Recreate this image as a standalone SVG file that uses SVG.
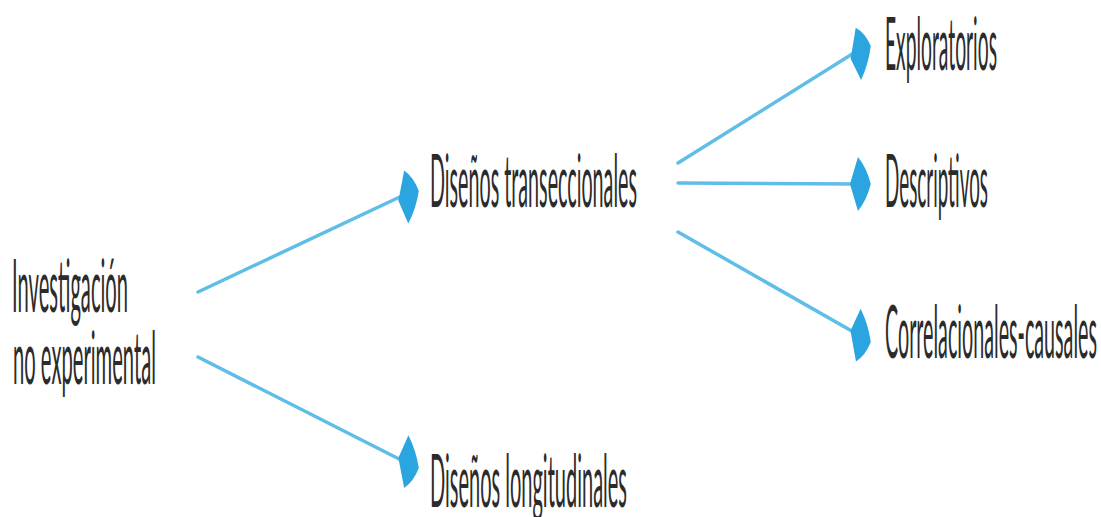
<svg xmlns="http://www.w3.org/2000/svg" xmlns:xlink="http://www.w3.org/1999/xlink" width="1101" height="517" viewBox="0 0 1101 517">
  <style>
    .label { font-family: Lato, "Open Sans", "Liberation Sans", sans-serif; font-size: 74px; font-weight: 400; fill: #2b2b2b; }
    .link { stroke: #5fbde8; stroke-width: 3.5; fill: none; stroke-linecap: round; }
    .head { fill: #2aa5df; }
  </style>
  <defs>
    <!-- arrowhead drawn in unsquashed space, tip at origin pointing +x -->
    <path id="arrowhead" d="M0,0 Q-10,-16 -32,-27 L-52,0 L-32,27 Q-10,16 0,0 Z"/>
  </defs>

  <rect width="1101" height="517" fill="#ffffff"/>

  <g id="connectors">
    <line class="link" x1="198" y1="292" x2="404" y2="195"/>
    <line class="link" x1="198" y1="357" x2="405" y2="462"/>
    <line class="link" x1="678" y1="163" x2="857" y2="51"/>
    <line class="link" x1="678" y1="183" x2="857" y2="184"/>
    <line class="link" x1="678" y1="232" x2="857" y2="334"/>
    <!-- heads: scale(0.4,1) then placed at tip/0.4 and rotated in unsquashed space -->
    <use class="head" xlink:href="#arrowhead" transform="scale(0.4,1) translate(1047,191) rotate(-10.9)"/>
    <use class="head" xlink:href="#arrowhead" transform="scale(0.4,1) translate(1047,468) rotate(11.5)"/>
    <use class="head" xlink:href="#arrowhead" transform="scale(0.4,1) translate(2177,46) rotate(-14.3)"/>
    <use class="head" xlink:href="#arrowhead" transform="scale(0.4,1) translate(2177,184) rotate(0)"/>
    <use class="head" xlink:href="#arrowhead" transform="scale(0.4,1) translate(2177,342) rotate(12.5)"/>
  </g>

  <!-- labels are set in a narrow face: x scaled by 0.25, lengths given in unscaled units -->
  <g id="node-investigacion">
    <text class="label" transform="scale(0.25,1)" x="48" y="312" textLength="464" lengthAdjust="spacingAndGlyphs">Investigación</text>
    <text class="label" transform="scale(0.25,1)" x="52" y="384" textLength="572" lengthAdjust="spacingAndGlyphs">no experimental</text>
  </g>
  <g id="node-transeccionales">
    <text class="label" transform="scale(0.25,1)" x="1720" y="207" textLength="828" lengthAdjust="spacingAndGlyphs">Diseños transeccionales</text>
  </g>
  <g id="node-longitudinales">
    <text class="label" transform="scale(0.25,1)" x="1720" y="507" textLength="788" lengthAdjust="spacingAndGlyphs">Diseños longitudinales</text>
  </g>
  <g id="node-exploratorios">
    <text class="label" transform="scale(0.25,1)" x="3540" y="70" textLength="448" lengthAdjust="spacingAndGlyphs">Exploratorios</text>
  </g>
  <g id="node-descriptivos">
    <text class="label" transform="scale(0.25,1)" x="3540" y="207" textLength="412" lengthAdjust="spacingAndGlyphs">Descriptivos</text>
  </g>
  <g id="node-correlacionales">
    <text class="label" transform="scale(0.25,1)" x="3540" y="358" textLength="848" lengthAdjust="spacingAndGlyphs">Correlacionales-causales</text>
  </g>
</svg>
